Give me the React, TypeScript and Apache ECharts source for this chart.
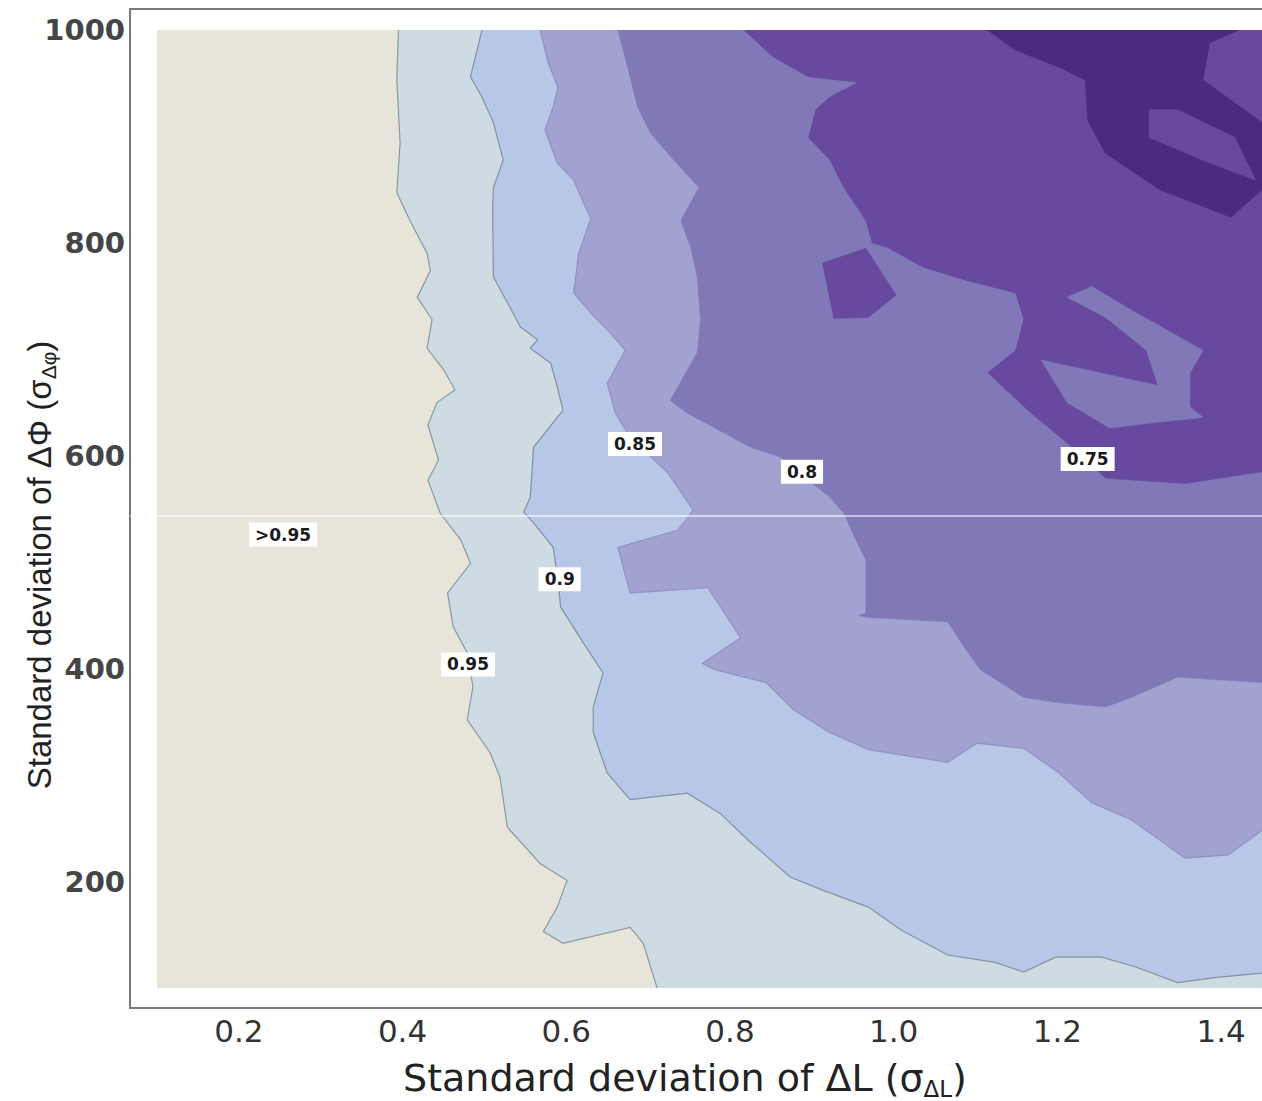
import React, { useEffect, useRef } from "react";
import * as echarts from "echarts";

// ---- axis ranges and tick labels ----
const X_MIN = 0.1;
const X_MAX = 1.45;
const Y_MIN = 100;
const Y_MAX = 1000;
const xTickLabels = ["0.2", "0.4", "0.6", "0.8", "1.0", "1.2", "1.4"];
const yTickLabels = ["200", "400", "600", "800", "1000"];

// ---- contour levels (fill colours from lightest to darkest) ----
const levelNames = [">0.95", "0.95-0.9", "0.9-0.85", "0.85-0.8", "0.8-0.75", "0.75-0.7", "<0.7"];
const levelColors = ["#E7E5DA", "#CEDBE2", "#B8C6E8", "#A2A2D1", "#8178B8", "#6749A0", "#4B2A84"];

// contour line at 0.95 (from top edge to bottom edge)
const contour095: number[][] = [
  [0.395, 1000], [0.393, 953], [0.397, 894], [0.393, 847], [0.409, 821], [0.43, 790], [0.434, 774],
  [0.418, 749], [0.436, 728], [0.43, 701], [0.45, 681], [0.464, 662], [0.442, 650], [0.431, 629],
  [0.444, 596], [0.431, 577], [0.446, 546], [0.471, 521], [0.483, 499], [0.455, 471], [0.462, 439],
  [0.479, 415], [0.486, 383], [0.479, 352], [0.507, 321], [0.519, 298], [0.528, 251], [0.568, 217],
  [0.601, 201], [0.589, 176], [0.572, 153], [0.596, 142], [0.678, 157], [0.694, 142], [0.711, 100],
];

// contour line at 0.9 (from top edge to right edge)
const contour090: number[][] = [
  [0.497, 1000], [0.483, 956], [0.497, 937], [0.511, 913], [0.523, 878], [0.511, 852], [0.51, 834],
  [0.511, 768], [0.528, 744], [0.544, 721], [0.565, 709], [0.556, 701], [0.581, 687], [0.589, 665],
  [0.596, 643], [0.56, 608], [0.556, 561], [0.548, 547], [0.56, 537], [0.584, 514], [0.59, 483],
  [0.593, 458], [0.621, 424], [0.645, 396], [0.633, 364], [0.633, 340], [0.65, 302], [0.678, 277],
  [0.748, 283], [0.788, 264], [0.822, 239], [0.874, 204], [0.913, 192], [0.969, 176], [1.01, 154],
  [1.066, 131], [1.124, 124], [1.159, 115], [1.198, 129], [1.254, 129], [1.295, 120], [1.347, 105],
  [1.395, 110], [1.45, 114],
];

// contour line at 0.85
const contour085: number[][] = [
  [0.568, 1000], [0.578, 969], [0.59, 946], [0.584, 928], [0.574, 906], [0.589, 875], [0.609, 859],
  [0.623, 834], [0.63, 823], [0.615, 790], [0.609, 753], [0.63, 734], [0.654, 715], [0.672, 699],
  [0.65, 668], [0.66, 640], [0.682, 612], [0.703, 599], [0.724, 584], [0.755, 549], [0.736, 530],
  [0.663, 514], [0.678, 471], [0.773, 476], [0.813, 429], [0.766, 405], [0.781, 399], [0.844, 387],
  [0.878, 361], [0.922, 340], [0.969, 324], [1.066, 312], [1.102, 330], [1.159, 325], [1.202, 302],
  [1.242, 274], [1.29, 258], [1.356, 222], [1.409, 225], [1.45, 248],
];

// contour line at 0.8
const contour080: number[][] = [
  [0.663, 1000], [0.676, 962], [0.687, 928], [0.703, 903], [0.731, 878], [0.762, 852], [0.74, 821],
  [0.752, 796], [0.76, 768], [0.764, 728], [0.76, 697], [0.727, 652], [0.748, 640], [0.801, 618],
  [0.825, 608], [0.861, 599], [0.896, 577], [0.922, 561], [0.939, 546], [0.952, 524], [0.966, 502],
  [0.966, 452], [0.957, 450], [0.969, 448], [1.066, 444], [1.088, 418], [1.106, 399], [1.159, 373],
  [1.202, 368], [1.259, 364], [1.29, 373], [1.347, 392], [1.45, 387],
];

// contour line at 0.75
const contour075: number[][] = [
  [0.817, 1000], [0.852, 975], [0.896, 956], [0.957, 951], [0.922, 937], [0.905, 925], [0.896, 899],
  [0.922, 878], [0.939, 852], [0.966, 821], [0.974, 800], [0.992, 796], [1.036, 777], [1.088, 765],
  [1.149, 753], [1.159, 728], [1.149, 699], [1.115, 678], [1.168, 640], [1.223, 605], [1.259, 579],
  [1.356, 574], [1.45, 585],
];

// closed patch below 0.75 inside the 0.8-0.75 band
const patch075: number[][] = [
  [0.913, 781], [0.966, 795], [1.003, 751], [0.969, 730], [0.927, 729],
];

// hook-shaped patch of 0.8-0.75 inside the 0.75-0.7 band
const hook080: number[][] = [
  [1.212, 749], [1.242, 759], [1.29, 737], [1.378, 699], [1.362, 678], [1.362, 646], [1.378, 636],
  [1.317, 631], [1.264, 626], [1.212, 650], [1.18, 690], [1.323, 666], [1.309, 699], [1.259, 730],
];

// core below 0.7
const core070: number[][] = [
  [1.115, 1000], [1.422, 1000], [1.386, 988], [1.378, 953], [1.45, 913], [1.45, 850], [1.412, 824],
  [1.325, 850], [1.259, 884], [1.237, 915], [1.234, 953], [1.202, 965], [1.149, 981],
];

// 0.75-0.7 patch inside the core
const hole070: number[][] = [
  [1.312, 925], [1.347, 925], [1.417, 899], [1.442, 859], [1.386, 875], [1.312, 899],
];

// in-plot contour labels
const labelTexts = [">0.95", "0.95", "0.9", "0.85", "0.8", "0.75"];
const labelX = [0.254, 0.48, 0.592, 0.684, 0.888, 1.237];
const labelY = [526, 404, 484, 611, 585, 597];

// ---- build filled shapes ----
type Shape = { level: number; points: number[][]; outline: number[][] | null; line: string };
const LINE_LIGHT = "rgba(105,115,125,0.65)";
const LINE_MID = "rgba(105,105,150,0.35)";
const shapes: Shape[] = [
  { level: 0, points: [[X_MIN, Y_MIN], [X_MIN, Y_MAX], [X_MAX, Y_MAX], [X_MAX, Y_MIN]], outline: null, line: "" },
  { level: 1, points: [...contour095, [X_MAX, Y_MIN], [X_MAX, Y_MAX]], outline: contour095, line: LINE_LIGHT },
  { level: 2, points: [...contour090, [X_MAX, Y_MAX]], outline: contour090, line: LINE_LIGHT },
  { level: 3, points: [...contour085, [X_MAX, Y_MAX]], outline: contour085, line: LINE_MID },
  { level: 4, points: [...contour080, [X_MAX, Y_MAX]], outline: null, line: "" },
  { level: 5, points: [...contour075, [X_MAX, Y_MAX]], outline: null, line: "" },
  { level: 5, points: patch075, outline: null, line: "" },
  { level: 4, points: hook080, outline: null, line: "" },
  { level: 6, points: core070, outline: null, line: "" },
  { level: 5, points: hole070, outline: null, line: "" },
];

const xFormatter = (v: number) => {
  const k = Math.round(v * 10);
  const s = (k / 10).toFixed(1);
  return xTickLabels.indexOf(s) >= 0 ? s : "";
};
const yFormatter = (v: number) => {
  const s = String(Math.round(v));
  return yTickLabels.indexOf(s) >= 0 ? s : "";
};

export default function App() {
  const ref = useRef<HTMLDivElement>(null);
  useEffect(() => {
    if (!ref.current) return;
    const chart = echarts.init(ref.current, null, { renderer: "svg" });
    const option: any = {
      animation: false,
      backgroundColor: "#ffffff",
      grid: { left: 157, top: 30, right: 0, bottom: 113, containLabel: false, outerBoundsMode: "none" },
      xAxis: {
        type: "value",
        min: X_MIN,
        max: X_MAX,
        interval: 0.1,
        axisLine: { show: false },
        axisTick: { show: false },
        splitLine: { show: false },
        axisLabel: {
          interval: 0,
          margin: 27,
          fontFamily: "DejaVu Sans",
          fontSize: 31,
          color: "#333",
          formatter: xFormatter,
        },
        name: "Standard deviation of ΔL (σ{s|ΔL})",
        nameLocation: "middle",
        nameGap: 68,
        nameMoveOverlap: false,
        nameTextStyle: {
          fontFamily: "DejaVu Sans",
          fontSize: 38,
          color: "#222",
          lineHeight: 44,
          padding: [0, 49, 0, 0],
          rich: { s: { fontFamily: "DejaVu Sans", fontSize: 23, color: "#222", verticalAlign: "bottom" } },
        },
      },
      yAxis: {
        type: "value",
        min: Y_MIN,
        max: Y_MAX,
        interval: 100,
        axisLine: { show: false },
        axisTick: { show: false },
        splitLine: { show: false },
        axisLabel: {
          interval: 0,
          margin: 32,
          fontFamily: "DejaVu Sans",
          fontWeight: "bold",
          fontSize: 29,
          color: "#454545",
          formatter: yFormatter,
        },
        name: "Standard deviation of ΔΦ (σ{s|Δφ})",
        nameLocation: "middle",
        nameGap: 98,
        nameMoveOverlap: false,
        nameTextStyle: {
          fontFamily: "Liberation Sans",
          fontSize: 33,
          color: "#222",
          lineHeight: 40,
          padding: [0, 112, 0, 0],
          rich: { s: { fontFamily: "Liberation Sans", fontSize: 21, color: "#222", verticalAlign: "bottom" } },
        },
      },
      series: [
        {
          type: "custom",
          name: "contours",
          clip: true,
          silent: true,
          data: shapes.map((s, i) => [i, s.level]),
          renderItem: (params: any, api: any) => {
            const s = shapes[params.dataIndex];
            const color = levelColors[s.level];
            const pts = s.points.map((p) => api.coord(p));
            const children: any[] = [
              {
                type: "polygon",
                shape: { points: pts },
                style: { fill: color, stroke: color, lineWidth: 0.6 },
              },
            ];
            if (s.outline) {
              children.push({
                type: "polyline",
                shape: { points: s.outline.map((p) => api.coord(p)) },
                style: { fill: null, stroke: s.line, lineWidth: 1.2 },
              });
            }
            return { type: "group", children };
          },
        },
        {
          type: "custom",
          name: "labels",
          silent: true,
          z: 5,
          data: labelTexts.map((t, i) => [labelX[i], labelY[i]]),
          renderItem: (params: any, api: any) => {
            const p = api.coord([api.value(0), api.value(1)]);
            return {
              type: "text",
              x: p[0],
              y: p[1],
              style: {
                text: labelTexts[params.dataIndex],
                fill: "#1a1a1a",
                fontFamily: "DejaVu Sans",
                fontSize: 17,
                fontWeight: "bold",
                align: "center",
                verticalAlign: "middle",
                backgroundColor: "#ffffff",
                padding: [4, 6, 3, 6],
              },
            };
          },
        },
      ],
      graphic: [
        {
          type: "polyline",
          z: 100,
          silent: true,
          shape: { points: [[1280, 9], [130, 9], [130, 1008], [1280, 1008]] },
          style: { fill: null, stroke: "#7a7a7a", lineWidth: 2 },
        },
        {
          type: "line",
          z: 100,
          silent: true,
          shape: { x1: 130, y1: 516, x2: 1262, y2: 516 },
          style: { stroke: "rgba(255,255,255,0.75)", lineWidth: 1.5 },
        },
      ],
    };
    chart.setOption(option);
    return () => chart.dispose();
  }, []);
  return (
    <div
      ref={ref}
      style={{ position: "absolute", left: 0, top: 0, width: 1262, height: 1101, background: "#fff" }}
    />
  );
}
